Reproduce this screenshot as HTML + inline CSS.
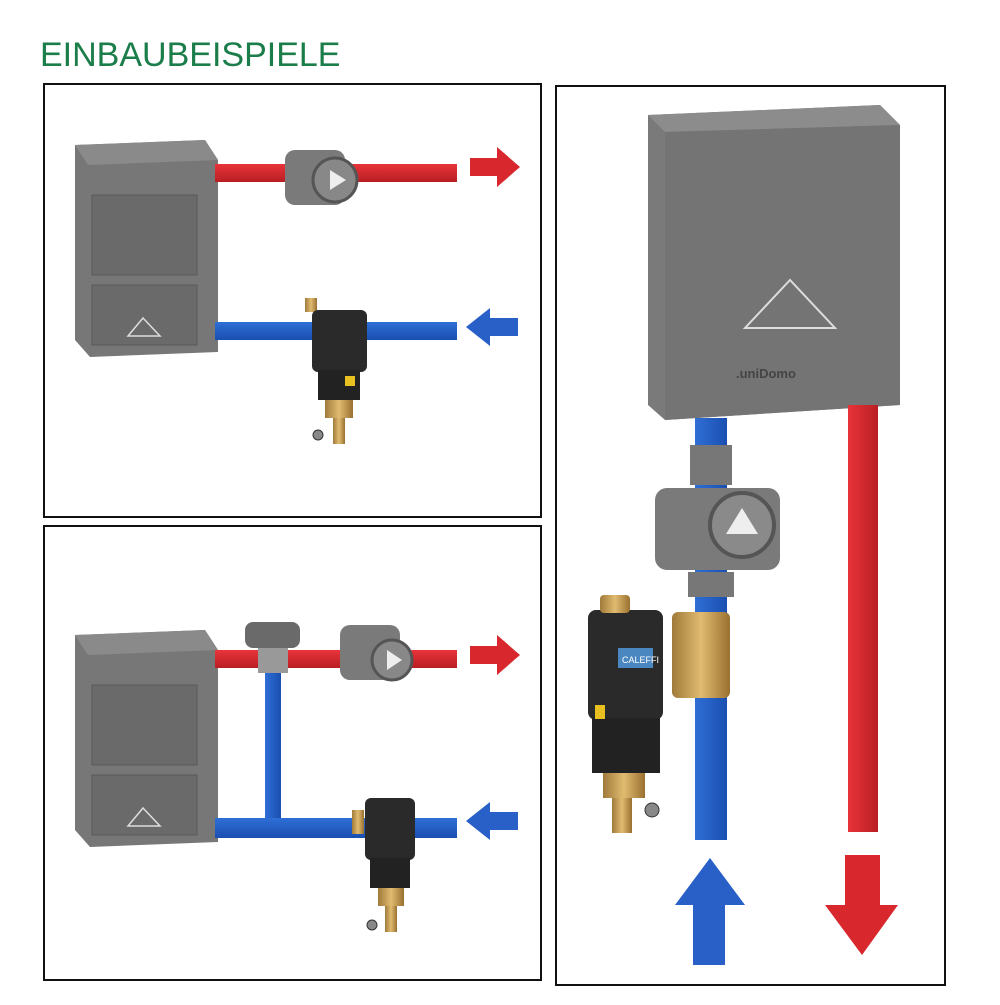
<!DOCTYPE html>
<html><head><meta charset="utf-8"><style>
body{margin:0;background:#fff;width:1000px;height:1000px;overflow:hidden}
</style></head><body>
<svg width="1000" height="1000" viewBox="0 0 1000 1000" xmlns="http://www.w3.org/2000/svg">
<defs>
<linearGradient id="box" x1="0" x2="1"><stop offset="0" stop-color="#6e6e6e"/><stop offset="1" stop-color="#7d7d7d"/></linearGradient>
<linearGradient id="red" x1="0" y1="0" x2="0" y2="1"><stop offset="0" stop-color="#e8343a"/><stop offset="1" stop-color="#b81e24"/></linearGradient>
<linearGradient id="blue" x1="0" y1="0" x2="0" y2="1"><stop offset="0" stop-color="#2f6fd6"/><stop offset="1" stop-color="#1a4fb0"/></linearGradient>
<linearGradient id="redv" x1="0" x2="1"><stop offset="0" stop-color="#e8343a"/><stop offset="1" stop-color="#b81e24"/></linearGradient>
<linearGradient id="bluev" x1="0" x2="1"><stop offset="0" stop-color="#2f6fd6"/><stop offset="1" stop-color="#1a4fb0"/></linearGradient>
<linearGradient id="brass" x1="0" x2="1"><stop offset="0" stop-color="#a07a3a"/><stop offset="0.5" stop-color="#e0bb70"/><stop offset="1" stop-color="#9a7030"/></linearGradient>
</defs>
<text x="40" y="66" font-family="Liberation Sans, sans-serif" font-size="34" fill="#1b7d4a">EINBAUBEISPIELE</text>
<rect x="44" y="84" width="497" height="433" fill="#fff" stroke="#111" stroke-width="2"/>
<rect x="44" y="526" width="497" height="454" fill="#fff" stroke="#111" stroke-width="2"/>
<rect x="556" y="86" width="389" height="899" fill="#fff" stroke="#111" stroke-width="2"/>

<!-- Panel 1 -->
<polygon points="75,145 205,140 218,160 218,352 90,357 75,340" fill="#777"/>
<polygon points="75,145 205,140 218,160 88,165" fill="#8a8a8a"/>
<rect x="92" y="195" width="105" height="80" fill="#6a6a6a" stroke="#5a5a5a"/>
<rect x="92" y="285" width="105" height="60" fill="#6a6a6a" stroke="#5a5a5a"/>
<polygon points="143,318 128,336 160,336" fill="none" stroke="#ddd" stroke-width="1.5"/>
<rect x="215" y="164" width="242" height="18" fill="url(#red)"/>
<rect x="285" y="150" width="60" height="55" rx="10" fill="#7a7a7a"/>
<circle cx="335" cy="180" r="22" fill="#888" stroke="#555" stroke-width="3"/>
<polygon points="330,170 330,190 346,180" fill="#eee"/>
<polygon points="470,158 497,158 497,147 520,167 497,187 497,176 470,176" fill="#d8282e"/>
<rect x="215" y="322" width="242" height="18" fill="url(#blue)"/>
<polygon points="518,318 490,318 490,308 466,327 490,346 490,336 518,336" fill="#2860c8"/>
<rect x="305" y="298" width="12" height="14" fill="url(#brass)"/>
<rect x="312" y="310" width="55" height="62" rx="6" fill="#2a2a2a"/>
<rect x="318" y="370" width="42" height="30" fill="#222"/>
<rect x="345" y="376" width="10" height="10" fill="#e8c020"/>
<rect x="325" y="400" width="28" height="18" fill="url(#brass)"/>
<rect x="333" y="418" width="12" height="26" fill="url(#brass)"/>
<circle cx="318" cy="435" r="5" fill="#888" stroke="#333"/>

<!-- Panel 2 -->
<polygon points="75,635 205,630 218,650 218,842 90,847 75,830" fill="#777"/>
<polygon points="75,635 205,630 218,650 88,655" fill="#8a8a8a"/>
<rect x="92" y="685" width="105" height="80" fill="#6a6a6a" stroke="#5a5a5a"/>
<rect x="92" y="775" width="105" height="60" fill="#6a6a6a" stroke="#5a5a5a"/>
<polygon points="143,808 128,826 160,826" fill="none" stroke="#ddd" stroke-width="1.5"/>
<rect x="215" y="650" width="242" height="18" fill="url(#red)"/>
<rect x="265" y="668" width="16" height="152" fill="url(#bluev)"/>
<rect x="258" y="645" width="30" height="28" fill="#999"/>
<rect x="245" y="622" width="55" height="26" rx="8" fill="#6a6a6a"/>
<rect x="340" y="625" width="60" height="55" rx="10" fill="#7a7a7a"/>
<circle cx="392" cy="660" r="20" fill="#888" stroke="#555" stroke-width="3"/>
<polygon points="387,650 387,670 402,660" fill="#eee"/>
<polygon points="470,646 497,646 497,635 520,655 497,675 497,664 470,664" fill="#d8282e"/>
<rect x="215" y="818" width="242" height="20" fill="url(#blue)"/>
<polygon points="518,812 490,812 490,802 466,821 490,840 490,830 518,830" fill="#2860c8"/>
<rect x="352" y="810" width="12" height="24" fill="url(#brass)"/>
<rect x="365" y="798" width="50" height="62" rx="6" fill="#2a2a2a"/>
<rect x="370" y="858" width="40" height="30" fill="#222"/>
<rect x="378" y="888" width="26" height="18" fill="url(#brass)"/>
<rect x="385" y="906" width="12" height="26" fill="url(#brass)"/>
<circle cx="372" cy="925" r="5" fill="#888" stroke="#333"/>

<!-- Panel 3 -->
<polygon points="648,115 880,105 900,125 900,405 665,420 648,405" fill="#7a7a7a"/>
<polygon points="648,115 880,105 900,125 665,132" fill="#8c8c8c"/>
<polygon points="665,132 900,125 900,405 665,420" fill="#747474"/>
<polygon points="790,280 745,328 835,328" fill="none" stroke="#ddd" stroke-width="2"/>
<text x="736" y="378" font-family="Liberation Sans, sans-serif" font-size="13" font-weight="bold" fill="#444">.uniDomo</text>
<rect x="848" y="405" width="30" height="427" fill="url(#redv)"/>
<rect x="695" y="418" width="32" height="422" fill="url(#bluev)"/>
<rect x="690" y="445" width="42" height="40" fill="#777"/>
<rect x="655" y="488" width="125" height="82" rx="12" fill="#7a7a7a"/>
<circle cx="742" cy="525" r="32" fill="#8a8a8a" stroke="#555" stroke-width="4"/>
<polygon points="742,508 726,534 758,534" fill="#eee"/>
<rect x="688" y="572" width="46" height="25" fill="#777"/>
<rect x="672" y="612" width="58" height="86" rx="6" fill="url(#brass)"/>
<rect x="588" y="610" width="75" height="110" rx="8" fill="#2a2a2a"/>
<rect x="600" y="595" width="30" height="18" rx="4" fill="url(#brass)"/>
<rect x="618" y="648" width="35" height="20" fill="#4a86c0"/>
<text x="622" y="663" font-family="Liberation Sans, sans-serif" font-size="9" fill="#fff">CALEFFI</text>
<rect x="592" y="718" width="68" height="55" fill="#222"/>
<rect x="595" y="705" width="10" height="14" fill="#e8c020"/>
<rect x="603" y="773" width="42" height="25" fill="url(#brass)"/>
<rect x="612" y="798" width="20" height="35" fill="url(#brass)"/>
<circle cx="652" cy="810" r="7" fill="#888" stroke="#333"/>
<polygon points="693,965 725,965 725,905 745,905 710,858 675,905 693,905" fill="#2860c8"/>
<polygon points="845,855 880,855 880,905 898,905 862,955 825,905 845,905" fill="#d8282e"/>
</svg>
</body></html>
